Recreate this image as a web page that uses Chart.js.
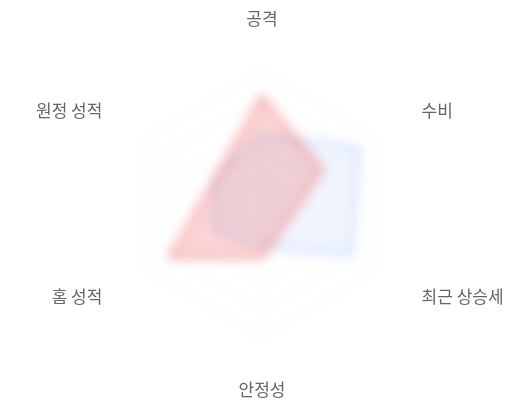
<!DOCTYPE html>
<html>
<head>
<meta charset="utf-8">
<script src="https://cdn.jsdelivr.net/npm/chart.js@4.4.1/dist/chart.umd.min.js"></script>
<style>
  html, body { margin: 0; padding: 0; background: #fff; }
  #wrap { position: relative; width: 520px; height: 400px; }
  /* frosted area over the plot, labels stay sharp */
  #frost {
    position: absolute; left: 108px; top: 34px; width: 306px; height: 340px;
    backdrop-filter: blur(6px); -webkit-backdrop-filter: blur(6px);
    pointer-events: none;
  }
</style>
</head>
<body>
<div id="wrap">
  <canvas id="radar"></canvas>
  <div id="frost"></div>
</div>
<script>
const labels = ['공격', '수비', '최근 상승세', '안정성', '홈 성적', '원정 성적'];
const teamA = [81, 52, 23, 40, 80, 40];
const teamB = [52, 85, 77, 32, 41, 41];

const ctx = document.getElementById('radar').getContext('2d');

new Chart(ctx, {
  type: 'radar',
  data: {
    labels: labels,
    datasets: [
      {
        label: 'A',
        data: teamA,
        borderColor: 'rgba(239, 68, 68, 0.85)',
        backgroundColor: 'rgba(239, 68, 68, 0.22)',
        borderWidth: 2,
        pointRadius: 0,
      },
      {
        label: 'B',
        data: teamB,
        borderColor: 'rgba(59, 130, 246, 0.45)',
        backgroundColor: 'rgba(59, 130, 246, 0.08)',
        borderWidth: 2,
        pointRadius: 0,
      },
    ],
  },
  options: {
    responsive: true,
    maintainAspectRatio: false,
    animation: false,
    // left padding offsets the pull of the long right-hand label
    layout: {
      padding: { top: 18, bottom: 9, left: 24, right: 0 },
    },
    plugins: {
      legend: { display: false },
      tooltip: { enabled: false },
    },
    scales: {
      r: {
        min: 0,
        max: 100,
        ticks: { display: false, stepSize: 20 },
        grid: { color: 'rgba(0, 0, 0, 0.07)', borderDash: [2, 3] },
        angleLines: { color: 'rgba(0, 0, 0, 0.05)', borderDash: [2, 3] },
        pointLabels: {
          padding: 52,
          color: '#666',
          font: { family: "'Noto Sans CJK KR', sans-serif", size: 17, lineHeight: 0.1 },
        },
      },
    },
  },
});
</script>
</body>
</html>
